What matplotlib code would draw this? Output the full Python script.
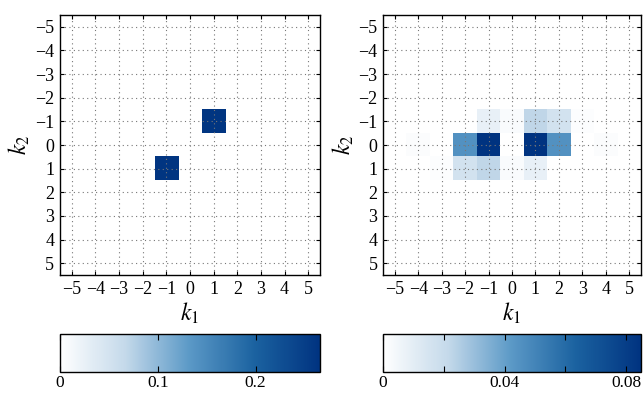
import numpy as np
import matplotlib
matplotlib.use('Agg')
from matplotlib import pyplot as plt
from matplotlib.colors import LinearSegmentedColormap

plt.rcParams['font.family'] = ['Liberation Serif', 'DejaVu Serif']
plt.rcParams['mathtext.fontset'] = 'stix'

k = np.arange(-5, 6)

# nonzero cells: (k1, k2, value)
left_cells = [(1, -1, 0.262), (-1, 1, 0.262)]
right_cells = [
    (-1, -1, 0.008), (0, -1, 0.002), (1, -1, 0.022), (2, -1, 0.016), (3, -1, 0.001),
    (-4, 0, 0.0015), (-2, 0, 0.045), (-1, 0, 0.085), (1, 0, 0.085), (2, 0, 0.045), (4, 0, 0.0015),
    (-3, 1, 0.001), (-2, 1, 0.016), (-1, 1, 0.022), (0, 1, 0.002), (1, 1, 0.008),
]
left_max = 0.266
right_max = 0.0848
left_ticks = [0, 0.1, 0.2]
left_labels = ['0', '0.1', '0.2']
right_ticks = [0, 0.02, 0.04, 0.06, 0.08]
right_labels = ['0', '', '0.04', '', '0.08']

cmap = LinearSegmentedColormap.from_list('wblue', [
    (0.0, '#ffffff'), (0.25, '#c4d9ea'), (0.5, '#5a98c6'),
    (0.75, '#1b62a0'), (1.0, '#003380')])


def to_grid(cells):
    g = np.zeros((len(k), len(k)))
    for k1, k2, v in cells:
        g[k2 + 5, k1 + 5] = v
    return g


fig = plt.figure(figsize=(6.44, 3.93), dpi=100)
ax_pos = [[0.093, 0.300, 0.404, 0.662], [0.595, 0.300, 0.400, 0.662]]
cb_pos = [[0.093, 0.054, 0.404, 0.097], [0.595, 0.054, 0.400, 0.097]]

panels = [(left_cells, left_max, left_ticks, left_labels),
          (right_cells, right_max, right_ticks, right_labels)]

for i, (cells, vmax, cticks, clabels) in enumerate(panels):
    ax = fig.add_axes(ax_pos[i])
    im = ax.imshow(to_grid(cells), cmap=cmap, vmin=0, vmax=vmax,
                   extent=(-5.5, 5.5, 5.5, -5.5), origin='upper',
                   interpolation='nearest', aspect='auto')
    ax.set_xticks(k)
    ax.set_yticks(k)
    ax.set_xticklabels(['\u2212%d' % -v if v < 0 else str(v) for v in k])
    ax.set_yticklabels(['\u2212%d' % -v if v < 0 else str(v) for v in k])
    ax.tick_params(direction='in', top=True, right=True, labelsize=13,
                   length=3, width=0.8, pad=4)
    ax.grid(True, linestyle=(0, (1, 3)), color='#777777', linewidth=0.8)
    ax.set_axisbelow(False)
    ax.set_xlabel('$k_1$', fontsize=17, labelpad=2)
    ax.set_ylabel('$k_2$', fontsize=17, labelpad=2)
    for s in ax.spines.values():
        s.set_linewidth(1.0)

    cax = fig.add_axes(cb_pos[i])
    cb = fig.colorbar(im, cax=cax, orientation='horizontal')
    cb.set_ticks(cticks)
    cb.set_ticklabels(clabels)
    cax.tick_params(direction='in', top=True, bottom=True, labelsize=12.5,
                    length=4, width=0.8, pad=2)
    cb.outline.set_linewidth(1.0)

fig.savefig('out.png', dpi=100)
